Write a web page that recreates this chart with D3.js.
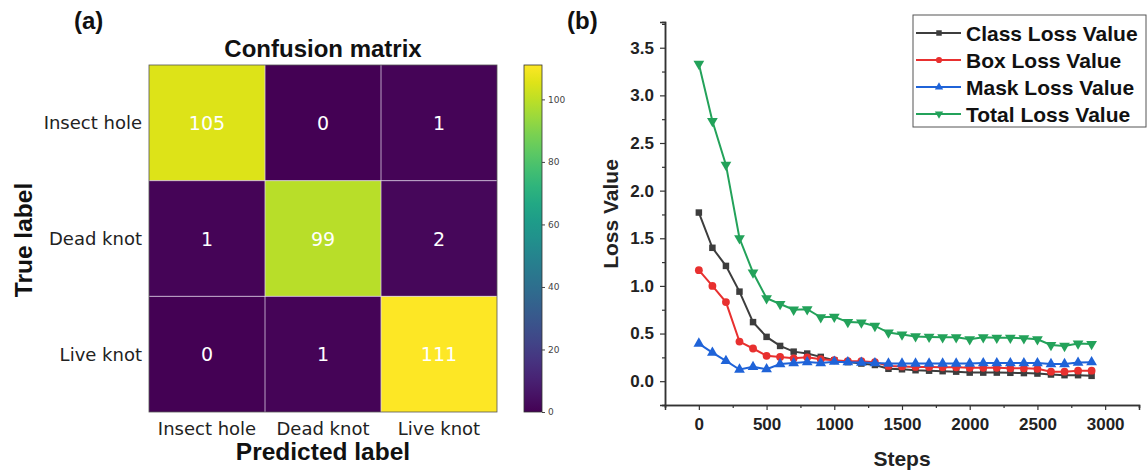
<!DOCTYPE html>
<html><head><meta charset="utf-8">
<script src="https://cdn.jsdelivr.net/npm/d3@7"></script>
<style>body{margin:0;background:#fff}svg{display:block}</style>
</head><body>
<svg id="c" width="1148" height="470"></svg>
<script>
// ---- Data ----
const classes = ["Insect hole", "Dead knot", "Live knot"];
const matrix = [[105, 0, 1], [1, 99, 2], [0, 1, 111]];
const cbTicks = [0, 20, 40, 60, 80, 100];

const steps = d3.range(0, 3000, 100);
const classLoss = [1.77,1.40,1.21,0.94,0.62,0.465,0.37,0.31,0.29,0.255,0.22,0.20,0.185,0.17,0.13,0.125,0.115,0.11,0.105,0.10,0.09,0.09,0.09,0.088,0.085,0.08,0.07,0.063,0.063,0.056];
const boxLoss = [1.165,1.00,0.83,0.416,0.343,0.266,0.255,0.24,0.25,0.23,0.22,0.21,0.21,0.20,0.16,0.155,0.15,0.15,0.145,0.145,0.14,0.14,0.14,0.135,0.135,0.13,0.10,0.10,0.11,0.11];
const maskLoss = [0.395,0.30,0.213,0.122,0.15,0.126,0.18,0.19,0.20,0.19,0.205,0.20,0.195,0.19,0.185,0.185,0.185,0.185,0.185,0.185,0.185,0.19,0.19,0.19,0.19,0.19,0.18,0.18,0.195,0.20];
const totalLoss = [3.33,2.73,2.27,1.50,1.14,0.87,0.81,0.75,0.755,0.67,0.675,0.62,0.615,0.58,0.51,0.49,0.47,0.465,0.46,0.46,0.44,0.46,0.455,0.455,0.45,0.44,0.38,0.37,0.395,0.39];
const seriesNames = ["Class Loss Value","Box Loss Value","Mask Loss Value","Total Loss Value"];
const seriesColors = ["#3d3d3d","#e8302f","#1f63d8","#23a25a"];
const seriesSymbols = [d3.symbolSquare, d3.symbolCircle, d3.symbolTriangle, d3.symbolTriangle];
const xTicks = [0,500,1000,1500,2000,2500,3000];
const yTicks = [0,0.5,1.0,1.5,2.0,2.5,3.0,3.5];

const svg = d3.select("#c");

// ---- Panel (a) ----
const A = {x0:149, x1:497, y0:65, y1:412};
const cx = d3.scaleBand().domain(d3.range(3)).range([A.x0, A.x1]);
const cy = d3.scaleBand().domain(d3.range(3)).range([A.y0, A.y1]);
const maxV = d3.max(matrix.flat());
const color = v => d3.interpolateViridis(v / maxV);

const cells = [];
matrix.forEach((row,i)=>row.forEach((v,j)=>cells.push({i,j,v})));
svg.append("g").selectAll("rect").data(cells).join("rect")
  .attr("x", d=>cx(d.j)).attr("y", d=>cy(d.i))
  .attr("width", cx.bandwidth()).attr("height", cy.bandwidth())
  .attr("fill", d=>color(d.v));
const gl = svg.append("g").attr("stroke","rgba(225,215,235,0.75)").attr("stroke-width",1);
[1,2].forEach(k=>{
  gl.append("line").attr("x1",cx(k)).attr("x2",cx(k)).attr("y1",A.y0).attr("y2",A.y1);
  gl.append("line").attr("y1",cy(k)).attr("y2",cy(k)).attr("x1",A.x0).attr("x2",A.x1);
});
svg.append("rect").attr("x",A.x0).attr("y",A.y0).attr("width",A.x1-A.x0).attr("height",A.y1-A.y0)
  .attr("fill","none").attr("stroke","#555").attr("stroke-width",0.8);
svg.append("g").selectAll("text").data(cells).join("text")
  .attr("x", d=>cx(d.j)+cx.bandwidth()/2).attr("y", d=>cy(d.i)+cy.bandwidth()/2)
  .attr("text-anchor","middle").attr("dominant-baseline","central")
  .attr("font-family","DejaVu Sans").attr("font-size",19).attr("fill","#fff")
  .text(d=>d.v);
svg.append("g").selectAll("text").data(classes).join("text")
  .attr("x", A.x0-7).attr("y",(d,i)=>cy(i)+cy.bandwidth()/2)
  .attr("text-anchor","end").attr("dominant-baseline","central")
  .attr("font-family","DejaVu Sans").attr("font-size",18).attr("fill","#222").text(d=>d);
svg.append("g").selectAll("text").data(classes).join("text")
  .attr("x",(d,i)=>cx(i)+cx.bandwidth()/2).attr("y", 428)
  .attr("text-anchor","middle").attr("dominant-baseline","central")
  .attr("font-family","DejaVu Sans").attr("font-size",18).attr("fill","#222").text(d=>d);
svg.append("text").attr("x",(A.x0+A.x1)/2).attr("y",460).attr("text-anchor","middle")
  .attr("font-family","Liberation Sans").attr("font-weight","bold").attr("font-size",24.5).attr("fill","#111")
  .text("Predicted label");
svg.append("text").attr("transform",`translate(32,240) rotate(-90)`).attr("text-anchor","middle")
  .attr("font-family","Liberation Sans").attr("font-weight","bold").attr("font-size",24.5).attr("fill","#111")
  .text("True label");
svg.append("text").attr("x",(A.x0+A.x1)/2).attr("y",57).attr("text-anchor","middle")
  .attr("font-family","Liberation Sans").attr("font-weight","bold").attr("font-size",24).attr("fill","#111")
  .text("Confusion matrix");
svg.append("text").attr("x",74).attr("y",29)
  .attr("font-family","Liberation Sans").attr("font-weight","bold").attr("font-size",24).attr("fill","#111")
  .text("(a)");

// colorbar
const CB = {x:524, w:18};
const cbScale = d3.scaleLinear().domain([0,maxV]).range([A.y1, A.y0]);
const defs = svg.append("defs");
const grad = defs.append("linearGradient").attr("id","vir").attr("x1",0).attr("y1",1).attr("x2",0).attr("y2",0);
d3.range(0,1.0001,0.05).forEach(t=>grad.append("stop").attr("offset",t).attr("stop-color",d3.interpolateViridis(t)));
svg.append("rect").attr("x",CB.x).attr("y",A.y0).attr("width",CB.w).attr("height",A.y1-A.y0)
  .attr("fill","url(#vir)").attr("stroke","#333").attr("stroke-width",0.8);
const cbAxis = d3.axisRight(cbScale).tickValues(cbTicks).tickSize(3).tickPadding(3);
const cbg = svg.append("g").attr("transform",`translate(${CB.x+CB.w},0)`).call(cbAxis);
cbg.select(".domain").remove();
cbg.selectAll("text").attr("font-family","DejaVu Sans").attr("font-size",9).attr("fill","#444");
cbg.selectAll("line").attr("stroke","#444");

// ---- Panel (b) ----
const B = {x0:665, x1:1139, y0:22, y1:405};
const x = d3.scaleLinear().domain([-250, 3250]).range([B.x0, B.x1]);
const y = d3.scaleLinear().domain([-0.25, 3.77]).range([B.y1, B.y0]);

const xAxis = d3.axisBottom(x).tickValues(xTicks).tickSize(5).tickPadding(8).tickFormat(d3.format("d"));
const xMinor = d3.axisBottom(x).tickValues(d3.range(-250, 3251, 250).filter(v=>v%500!==0)).tickSize(3).tickFormat("");
const yAxis = d3.axisLeft(y).tickValues(yTicks).tickSize(5).tickPadding(6).tickFormat(d3.format(".1f"));
const yMinor = d3.axisLeft(y).tickValues(d3.range(-0.25, 3.76, 0.25).filter(v=>Math.abs(v*2-Math.round(v*2))>0.01)).tickSize(3).tickFormat("");

function styleAxis(g){
  g.select(".domain").attr("stroke","#333").attr("stroke-width",1.5);
  g.selectAll(".tick line").attr("stroke","#333").attr("stroke-width",1.2);
  g.selectAll("text").attr("font-family","Liberation Sans").attr("font-weight","bold").attr("font-size",17).attr("fill","#222");
}
svg.append("g").attr("transform",`translate(0,${B.y1})`).call(xMinor).call(styleAxis);
svg.append("g").attr("transform",`translate(0,${B.y1})`).call(xAxis).call(styleAxis);
svg.append("g").attr("transform",`translate(${B.x0},0)`).call(yMinor).call(styleAxis);
svg.append("g").attr("transform",`translate(${B.x0},0)`).call(yAxis).call(styleAxis);

svg.append("text").attr("x",902).attr("y",466).attr("text-anchor","middle")
  .attr("font-family","Liberation Sans").attr("font-weight","bold").attr("font-size",21).attr("fill","#222").text("Steps");
svg.append("text").attr("transform",`translate(618,214) rotate(-90)`).attr("text-anchor","middle")
  .attr("font-family","Liberation Sans").attr("font-weight","bold").attr("font-size",21).attr("fill","#222").text("Loss Value");
svg.append("text").attr("x",567).attr("y",29)
  .attr("font-family","Liberation Sans").attr("font-weight","bold").attr("font-size",24).attr("fill","#111").text("(b)");

const allSeries = [classLoss, boxLoss, maskLoss, totalLoss];
const line = d3.line().x((d,i)=>x(steps[i])).y(d=>y(d));
const sizes = [42, 48, 50, 50];
allSeries.forEach((s,k)=>{
  const g = svg.append("g");
  g.append("path").datum(s).attr("d",line).attr("fill","none").attr("stroke",seriesColors[k]).attr("stroke-width",2);
  g.selectAll("path.m").data(s).join("path").attr("class","m")
    .attr("transform",(d,i)=>`translate(${x(steps[i])},${y(d)})${k===3?" rotate(180)":""}`)
    .attr("d", d3.symbol().type(seriesSymbols[k]).size(sizes[k]))
    .attr("fill",seriesColors[k]);
});

// legend
const L = {x:913, y:15, w:233, h:112};
svg.append("rect").attr("x",L.x).attr("y",L.y).attr("width",L.w).attr("height",L.h)
  .attr("fill","#fff").attr("stroke","#555").attr("stroke-width",1);
seriesNames.forEach((n,k)=>{
  const yy = L.y+18+k*27;
  svg.append("line").attr("x1",L.x+3).attr("x2",L.x+48).attr("y1",yy).attr("y2",yy)
    .attr("stroke",seriesColors[k]).attr("stroke-width",2);
  svg.append("path").attr("transform",`translate(${L.x+26},${yy})${k===3?" rotate(180)":""}`)
    .attr("d",d3.symbol().type(seriesSymbols[k]).size(30)).attr("fill",seriesColors[k]);
  svg.append("text").attr("x",L.x+53).attr("y",yy).attr("dominant-baseline","central")
    .attr("font-family","Liberation Sans").attr("font-weight","bold").attr("font-size",21).attr("fill","#111").text(n);
});
</script>
</body></html>
